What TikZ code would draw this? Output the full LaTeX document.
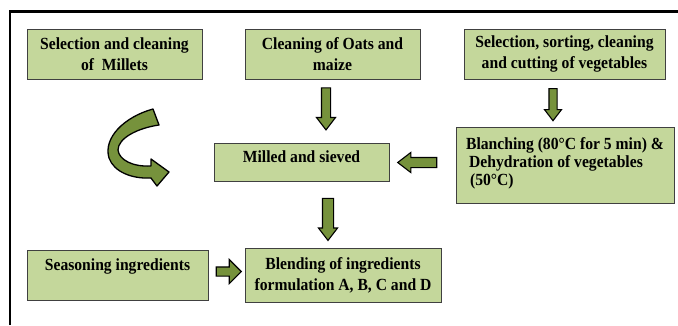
\documentclass[tikz,border=0pt]{standalone}
\usepackage{fontspec}
\setmainfont{Liberation Serif}[FakeStretch=0.92]
\usetikzlibrary{shapes.arrows}
\usetikzlibrary{positioning}
\definecolor{boxgreen}{HTML}{C4D79B}
\definecolor{arrowgreen}{HTML}{76923C}
\tikzset{stepbox/.style = {draw = black!75, line width = 0.8, fill = boxgreen,
                           inner sep = 0, align = center,
                           font = \bfseries\fontsize{17}{21}\selectfont}}
\tikzset{flowarrow/.style = {single arrow, draw, line width = 1.1, fill = arrowgreen,
                             inner xsep = 0, single arrow tip angle = 75,
                             sloped, allow upside down}}

\begin{document}
\begin{tikzpicture}[x = 1pt, y = -1pt]
    \useasboundingbox (0, 0) rectangle (678, 325);
    \draw [line width = 2.5] (10, 325) -- (10, 11.5) -- (678, 11.5);

    \node [stepbox, minimum width = 175, minimum height = 50] (millets) at (114.5, 54)
          {Selection and cleaning\\of \ Millets};
    \node [stepbox, minimum width = 175, minimum height = 50] (oats) at (332.5, 54)
          {Cleaning of Oats and\\maize};
    \node [stepbox, minimum width = 201, minimum height = 50] (veg) at (564.5, 54)
          {Selection, sorting, cleaning\\and cutting of vegetables};
    \node [stepbox, minimum width = 218, minimum height = 76, align = left,
           font = \bfseries\fontsize{17}{18}\selectfont] (blanch) at (565, 165)
          {Blanching (80°C for 5 min) \&\\ \hspace{3pt}Dehydration of vegetables\\
           \hspace{4pt}(50°C)\\[-12pt]\mbox{}};
    \node [stepbox, minimum width = 175, minimum height = 38] (milled) at (301.5, 162)
          {Milled and sieved\\[-10pt]\mbox{}};
    \node [stepbox, minimum width = 181, minimum height = 50] (season) at (117.5, 275)
          {Seasoning ingredients\\\mbox{}};
    \node [stepbox, minimum width = 196, minimum height = 54] (blend) at (343, 275)
          {Blending of ingredients\\formulation A, B, C and D};

    % block arrows between the boxes
    \path ([xshift = -6.5]oats.south) -- ([xshift = -6.5]oats.south |- milled.north)
          node [flowarrow, pos = 0.42, minimum height = 42, inner ysep = 4,
                single arrow head extend = 5] {};
    \path ([xshift = -11.5]veg.south) -- ([xshift = -11.5]veg.south |- blanch.north)
          node [flowarrow, pos = 0.48, minimum height = 32, inner ysep = 3.5,
                single arrow head extend = 4.5] {};
    \path ([yshift = 2.5]blanch.west) -- ([yshift = 2.5]blanch.west -| milled.east)
          node [flowarrow, pos = 0.53, minimum height = 39, inner ysep = 4.5,
                single arrow head extend = 5] {};
    \path ([xshift = 26.5]milled.south) -- ([xshift = 26.5]milled.south |- blend.north)
          node [flowarrow, pos = 0.52, minimum height = 42, inner ysep = 5,
                single arrow head extend = 4] {};
    \path ([yshift = 3.5]season.east) -- ([yshift = 3.5]season.east -| blend.west)
          node [flowarrow, pos = 0.5, minimum height = 25, inner ysep = 4,
                single arrow head extend = 7.5, single arrow tip angle = 90] {};

    % curved arrow
    \draw [line width = 1.3, fill = arrowgreen, line join = round]
        (153, 109) .. controls (124, 117) and (103, 138) .. (109, 158)
        .. controls (114, 172) and (132, 179) .. (151, 178)
        -- (157, 186) -- (169, 172) -- (151, 159) -- (151, 166)
        .. controls (133, 167) and (119, 160) .. (118, 150)
        .. controls (118, 138) and (138, 128) .. (159, 125) -- cycle;
\end{tikzpicture}
\end{document}
